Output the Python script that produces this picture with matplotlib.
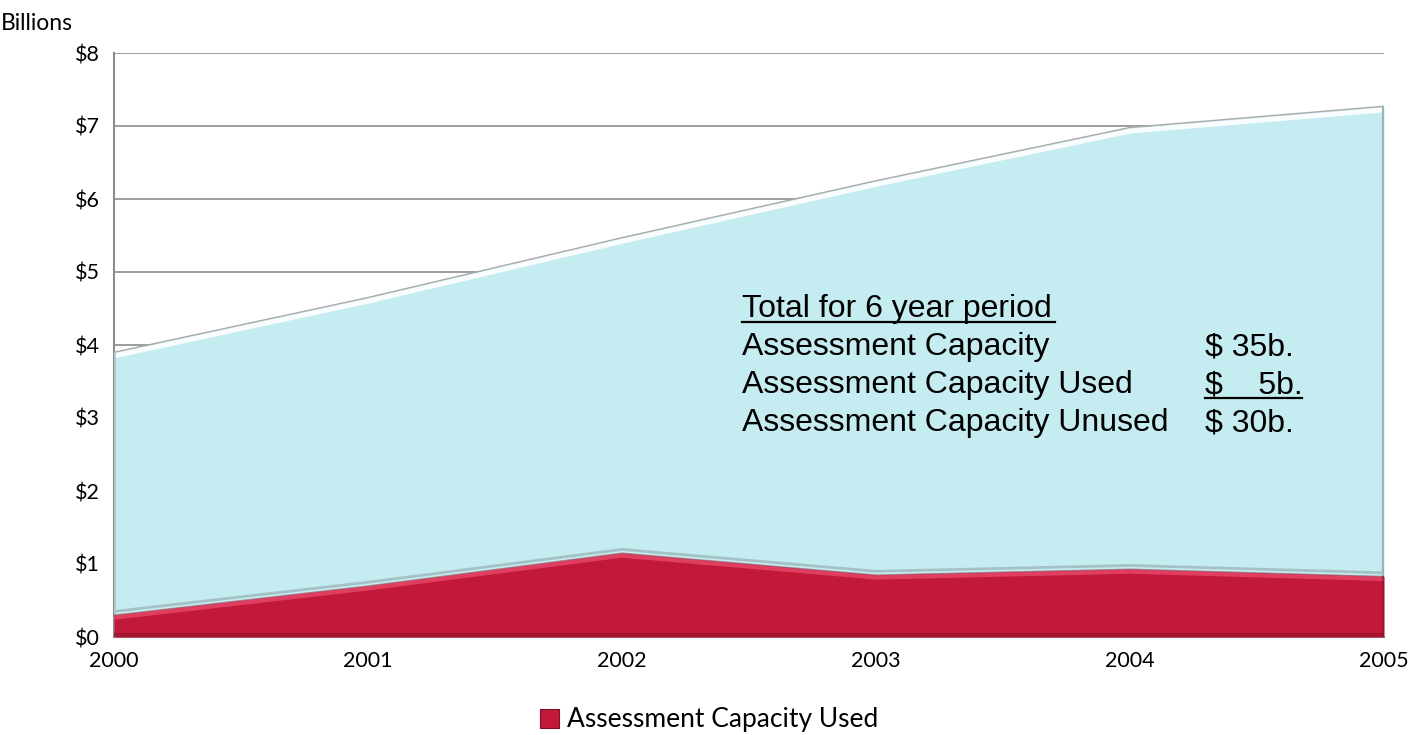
import numpy as np
import matplotlib.pyplot as plt
from matplotlib.patches import Patch

# data (billions of dollars)
years = [2000, 2001, 2002, 2003, 2004, 2005]
capacity = [3.9, 4.65, 5.47, 6.25, 6.98, 7.27]
used = [0.3, 0.7, 1.15, 0.85, 0.93, 0.83]
ytick_vals = [0, 1, 2, 3, 4, 5, 6, 7, 8]
ytick_labels = ['$0', '$1', '$2', '$3', '$4', '$5', '$6', '$7', '$8']

summary_labels = ['Assessment Capacity', 'Assessment Capacity Used', 'Assessment Capacity Unused']
summary_values = ['$ 35b.', '$    5b.', '$ 30b.']

blue = '#C5ECF0'
red = '#C2193A'
grid_col = '#8C8C8C'

W, H = 1418, 735
fig = plt.figure(figsize=(W / 100, H / 100), dpi=100)
ax = fig.add_axes([114/W, 1 - 637/H, 1270/W, 584/H])

# capacity area (light blue) with a bevelled look
ax.fill_between(years, 0, capacity, color=blue, zorder=2, lw=0)
ax.plot(years, capacity, color='#A9A9A9', lw=1.0, zorder=3)
ax.plot(years, np.array(capacity) - 0.05, color='white', lw=3.5, alpha=0.9, zorder=3)
ax.plot(years, np.array(used) + 0.05, color='#8FA7AB', lw=2, alpha=0.6, zorder=3)
ax.vlines(years[-1], used[-1], capacity[-1], color='#9DB5B9', lw=3, zorder=3)
ax.vlines(years[0], used[0], capacity[0], color='#B0C8CC', lw=2, zorder=3)

# used area (red)
ax.fill_between(years, 0, used, color=red, zorder=4, lw=0)
ax.plot(years, np.array(used) - 0.035, color='#E8486A', lw=3, alpha=0.8, zorder=5)
ax.plot(years, used, color='#7E1025', lw=0.8, alpha=0.5, zorder=5)
ax.axhline(0.03, color='#8E1029', lw=3, alpha=0.5, zorder=5)
ax.vlines(years[-1], 0, used[-1], color='#8E1029', lw=3, alpha=0.6, zorder=5)

ax.set_xlim(2000, 2005)
ax.set_ylim(0, 8)
ax.set_yticks(ytick_vals)
ax.set_yticklabels(ytick_labels)
ax.set_xticks(years)
ax.set_xticklabels([str(y) for y in years])
ax.yaxis.grid(True, color=grid_col, lw=1.2, zorder=1)
ax.set_axisbelow(True)
for side in ['top', 'right']:
    ax.spines[side].set_visible(False)
for side in ['left', 'bottom']:
    ax.spines[side].set_color(grid_col)
    ax.spines[side].set_linewidth(1.5)
ax.tick_params(length=0, labelsize=15.5, pad=10)
for lab in ax.get_xticklabels() + ax.get_yticklabels():
    lab.set_fontfamily('Lato')

fig.text(1/W, 1 - 30/H, 'Billions', fontsize=16.5, family='Lato', va='baseline', ha='left')

# summary text block
tx = 742 / W
vx = 1205 / W
y0 = 1 - 317/H
dy = 38 / H
fs = 23
fig.text(tx, y0, 'Total for 6 year period', fontsize=fs, family='Liberation Sans',
         va='baseline')
fig.add_artist(plt.Line2D([tx, 1055/W], [y0 - 5/H, y0 - 5/H], color='black', lw=1.6))
for i, (lab, val) in enumerate(zip(summary_labels, summary_values)):
    y = y0 - (i + 1) * dy
    fig.text(tx, y, lab, fontsize=fs, family='Liberation Sans', va='baseline')
    fig.text(vx, y, val, fontsize=fs, family='Liberation Sans', va='baseline')
yu = y0 - 2 * dy - 5/H
fig.add_artist(plt.Line2D([1205/W, 1302/W], [yu, yu], color='black', lw=1.6))

# legend
handle = Patch(facecolor=red, edgecolor='#7E1025', lw=0.8)
fig.legend([handle], ['Assessment Capacity Used'], loc='center',
           bbox_to_anchor=(709/W, 1 - 720/H), frameon=False,
           prop={'family': 'Lato', 'size': 19}, handlelength=0.7, handleheight=0.7,
           handletextpad=0.3)

fig.savefig('out.png', dpi=100)
